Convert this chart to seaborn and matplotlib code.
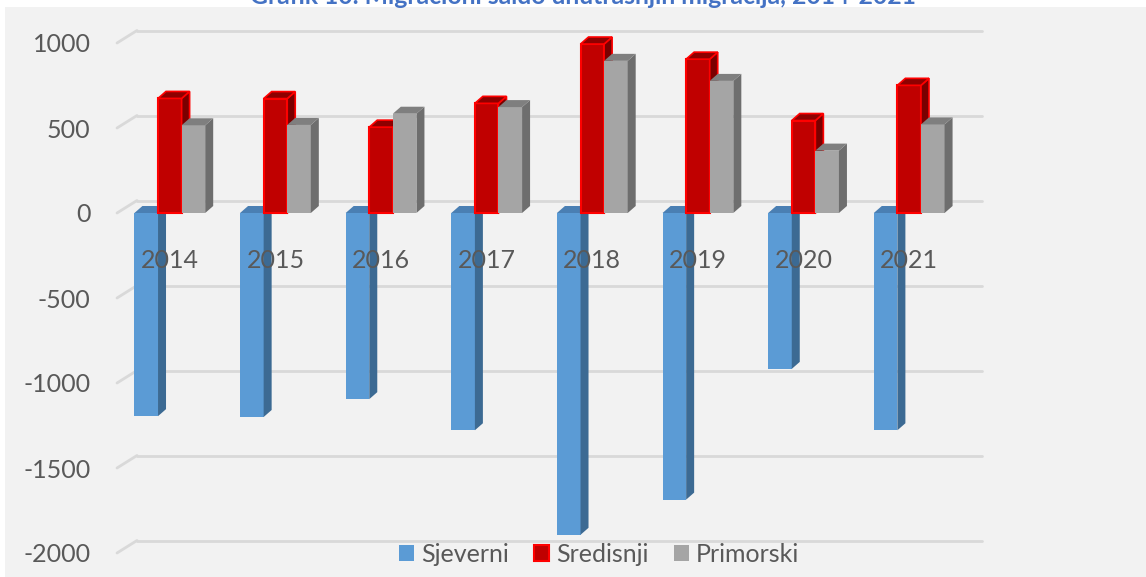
import matplotlib
matplotlib.use("Agg")
import numpy as np
import pandas as pd
import matplotlib.pyplot as plt
import seaborn as sns
from matplotlib.patches import Polygon, Patch, Rectangle

years = ["2014", "2015", "2016", "2017", "2018", "2019", "2020", "2021"]
regions = ["Sjeverni", "Sredisnji", "Primorski"]
sjeverni = [-1195, -1200, -1095, -1278, -1893, -1686, -917, -1278]
sredisnji = [674, 673, 505, 645, 994, 905, 544, 751]
primorski = [516, 518, 584, 623, 895, 777, 367, 521]
title = "Grafik 10. Migracioni saldo unutrašnjih migracija, 2014-2021"

front_c = ["#5B9BD5", "#C00000", "#A5A5A5"]
side_c = ["#3C6A93", "#7A0000", "#6E6E6E"]
top_c = ["#4A7FB3", "#8E0000", "#7F7F7F"]
BG = "#F2F2F2"
TXT = "#595959"

df = pd.DataFrame({
    "year": years * 3,
    "region": np.repeat(regions, len(years)),
    "value": sjeverni + sredisnji + primorski,
})

sns.set_style("white")
plt.rcParams["font.family"] = ["Lato", "DejaVu Sans"]
plt.rcParams["axes.unicode_minus"] = False

W, H = 1146, 577
fig = plt.figure(figsize=(W / 100, H / 100), dpi=100, facecolor="white")
fig.patches.append(Rectangle((5 / W, 0), 1, 1 - 7 / H, transform=fig.transFigure,
                             facecolor=BG, edgecolor="none", zorder=-10))
ax = fig.add_axes([117 / W, 1 - 553 / H, 845 / W, 510 / H])
ax.set_facecolor("none")

sns.barplot(data=df, x="year", y="value", hue="region", hue_order=regions,
            palette=front_c, saturation=1, width=0.67, legend=False, ax=ax)
ax.set_xlim(-0.5, 7.5)
ax.set_ylim(-2000, 1000)

# pixels per data unit
sx = ax.bbox.width / 8
sy = ax.bbox.height / 3000
dx, dy = 8 / sx, 7 / sy          # bar depth
wx, wy = 20 / sx, 12.5 / sy      # back wall offset

# back wall gridlines
for g in range(-2000, 1001, 500):
    ax.plot([-0.5 + wx, 7.5 + wx], [g + wy, g + wy], color="#D9D9D9", lw=2,
            clip_on=False, zorder=1)
    ax.plot([-0.5, -0.5 + wx], [g, g + wy], color="#D9D9D9", lw=2,
            clip_on=False, zorder=1)

# fake 3D faces
for i, cont in enumerate(ax.containers):
    for bar in cont:
        x0, w = bar.get_x(), bar.get_width()
        y, h = bar.get_y(), bar.get_height()
        top, bot = max(y, y + h), min(y, y + h)
        x1 = x0 + w
        ec = "#FF0000" if i == 1 else "none"
        bar.set_zorder(3 + i)
        bar.set_edgecolor(ec)
        bar.set_linewidth(1.5 if i == 1 else 0)
        ax.add_patch(Polygon([(x1, bot), (x1 + dx, bot + dy), (x1 + dx, top + dy), (x1, top)],
                             facecolor=side_c[i], edgecolor=ec, lw=1.2, zorder=3 + i,
                             clip_on=False))
        ax.add_patch(Polygon([(x0, top), (x0 + dx, top + dy), (x1 + dx, top + dy), (x1, top)],
                             facecolor=top_c[i], edgecolor=ec, lw=1.2, zorder=3 + i,
                             clip_on=False))

for i, yr in enumerate(years):
    ax.text(i, -280, yr, ha="center", va="center", fontsize=18, color=TXT, zorder=10)

ax.set_xticks([])
ax.set_yticks(range(-2000, 1001, 500))
ax.tick_params(axis="y", length=0, pad=19, labelsize=18, labelcolor=TXT)
ax.set_xlabel("")
ax.set_ylabel("")
for s in ax.spines.values():
    s.set_visible(False)

handles = [Patch(facecolor=front_c[0], edgecolor="none"),
           Patch(facecolor=front_c[1], edgecolor="#FF0000", lw=1.5),
           Patch(facecolor=front_c[2], edgecolor="none")]
fig.legend(handles, regions, loc="center", bbox_to_anchor=(599 / W, 1 - 554 / H),
           ncol=3, frameon=False, fontsize=18, labelcolor=TXT,
           handlelength=0.6, handleheight=0.6, handletextpad=0.3, columnspacing=1.0)

fig.text(583 / W, 1 - 4 / H, title, ha="center", va="baseline", fontsize=17.8,
         fontweight="bold", color="#4472C4")

fig.savefig("out.png", dpi=100, facecolor=fig.get_facecolor())
